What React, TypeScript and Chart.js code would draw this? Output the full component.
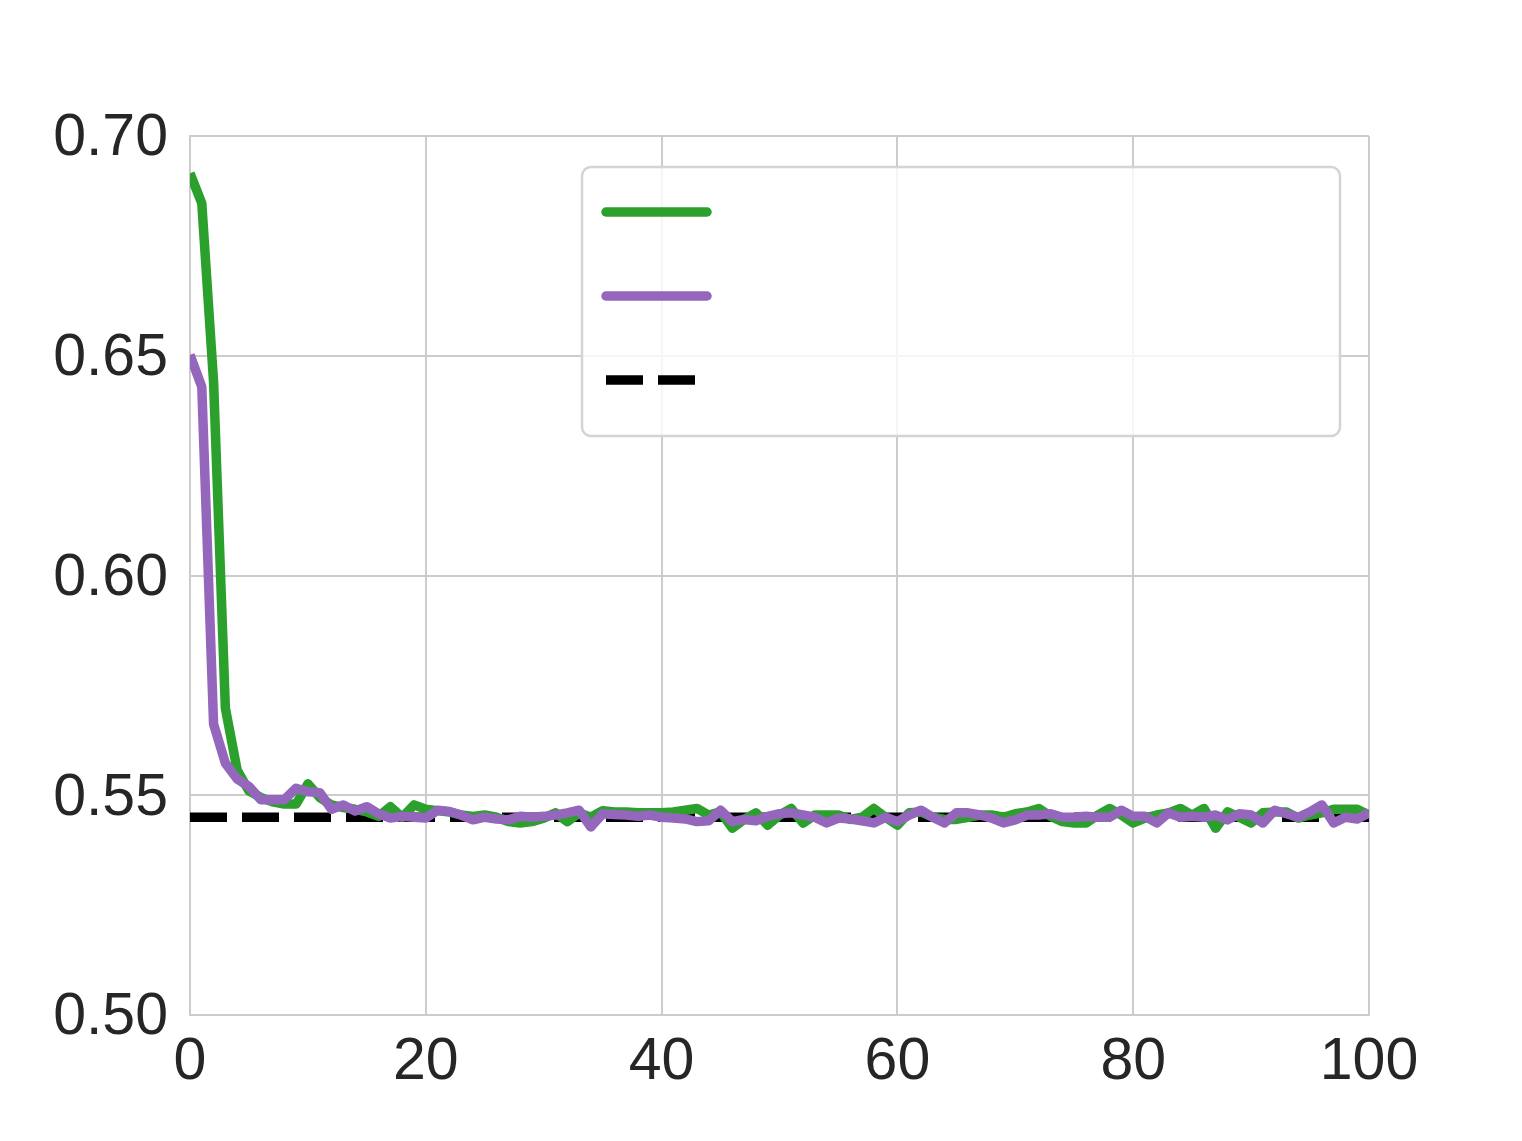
import React, { useEffect, useRef } from "react";
import { Chart, registerables } from "chart.js";

Chart.register(...registerables);

const epochs: number[] = Array.from({ length: 101 }, (_, i) => i);

const greenValues: number[] = [
  0.6915, 0.6847, 0.644, 0.5698, 0.5557, 0.551, 0.5495, 0.5485, 0.548, 0.548,
  0.5526, 0.5495, 0.5478, 0.5472, 0.5468, 0.5462, 0.5452, 0.5474, 0.545, 0.5478,
  0.5468, 0.5465, 0.5462, 0.5455, 0.5452, 0.5455, 0.545, 0.544, 0.5437, 0.544,
  0.5448, 0.546, 0.544, 0.546, 0.545, 0.5465, 0.5462, 0.5462, 0.546, 0.546,
  0.546, 0.5462, 0.5466, 0.547, 0.5455, 0.5462, 0.5425, 0.5445, 0.546, 0.5432,
  0.5455, 0.547, 0.5437, 0.5455, 0.5455, 0.5455, 0.5445, 0.545, 0.547, 0.545,
  0.5432, 0.546, 0.5462, 0.545, 0.5445, 0.5445, 0.545, 0.5455, 0.5455, 0.545,
  0.5458, 0.5462, 0.547, 0.5452, 0.544, 0.5437, 0.5437, 0.5455, 0.547, 0.5455,
  0.5437, 0.5448, 0.5455, 0.546, 0.547, 0.5455, 0.547, 0.5425, 0.5462, 0.545,
  0.5437, 0.546, 0.5462, 0.5462, 0.5448, 0.5455, 0.546, 0.5468, 0.5468, 0.5468,
  0.5455,
];

const purpleValues: number[] = [
  0.6502, 0.6429, 0.5662, 0.5573, 0.5537, 0.552, 0.549, 0.549, 0.549, 0.5516,
  0.5508, 0.5506, 0.5468, 0.5478, 0.5464, 0.5474, 0.5458, 0.5448, 0.5452, 0.545,
  0.5448, 0.5466, 0.5463, 0.5455, 0.5444, 0.545, 0.5446, 0.5444, 0.5452, 0.545,
  0.5452, 0.5455, 0.546, 0.5466, 0.5428, 0.5458, 0.5456, 0.5455, 0.5452, 0.5455,
  0.545, 0.5448, 0.5446, 0.544, 0.5442, 0.5466, 0.544, 0.5445, 0.5442, 0.5452,
  0.5458, 0.546, 0.5455, 0.545, 0.5437, 0.5448, 0.5446, 0.5442, 0.5437, 0.545,
  0.544, 0.5455, 0.5466, 0.545, 0.5437, 0.546, 0.546, 0.5455, 0.5448, 0.5437,
  0.5444, 0.5455, 0.5455, 0.5458, 0.545, 0.545, 0.5452, 0.545, 0.545, 0.5466,
  0.5452, 0.5452, 0.5437, 0.546, 0.545, 0.5452, 0.545, 0.5455, 0.5444, 0.5458,
  0.5455, 0.5437, 0.5466, 0.5458, 0.545, 0.5462, 0.5478, 0.5437, 0.545, 0.5446,
  0.546,
];

const baselineValue = 0.545;
const baselineX: number[] = [0, 100];

const xTicks: number[] = [0, 20, 40, 60, 80, 100];
const yTicks: number[] = [0.5, 0.55, 0.6, 0.65, 0.7];

const GREEN = "#2ca02c";
const PURPLE = "#9467bd";
const FONT = "'Liberation Sans', Arial, sans-serif";

const legendPlugin = {
  id: "customLegend",
  afterDraw(chart: any) {
    const ctx = chart.ctx;
    ctx.save();
    const x = 582, y = 167, w = 758, h = 269, r = 9;
    ctx.beginPath();
    ctx.moveTo(x + r, y);
    ctx.lineTo(x + w - r, y);
    ctx.arcTo(x + w, y, x + w, y + r, r);
    ctx.lineTo(x + w, y + h - r);
    ctx.arcTo(x + w, y + h, x + w - r, y + h, r);
    ctx.lineTo(x + r, y + h);
    ctx.arcTo(x, y + h, x, y + h - r, r);
    ctx.lineTo(x, y + r);
    ctx.arcTo(x, y, x + r, y, r);
    ctx.closePath();
    ctx.fillStyle = "rgba(255,255,255,0.8)";
    ctx.fill();
    ctx.lineWidth = 2.5;
    ctx.strokeStyle = "#d4d4d4";
    ctx.stroke();

    ctx.lineWidth = 9.5;
    ctx.lineCap = "round";
    ctx.strokeStyle = GREEN;
    ctx.beginPath();
    ctx.moveTo(606, 212);
    ctx.lineTo(707, 212);
    ctx.stroke();
    ctx.strokeStyle = PURPLE;
    ctx.beginPath();
    ctx.moveTo(606, 296);
    ctx.lineTo(707, 296);
    ctx.stroke();
    ctx.lineCap = "butt";
    ctx.strokeStyle = "#000000";
    ctx.setLineDash([37, 15]);
    ctx.beginPath();
    ctx.moveTo(606, 380);
    ctx.lineTo(706, 380);
    ctx.stroke();
    ctx.restore();
  },
};

export default function App() {
  const canvasRef = useRef<HTMLCanvasElement | null>(null);

  useEffect(() => {
    if (!canvasRef.current) return;
    const chart = new Chart(canvasRef.current, {
      type: "line",
      data: {
        datasets: [
          {
            label: "purple",
            data: epochs.map((e, i) => ({ x: e, y: purpleValues[i] })),
            borderColor: PURPLE,
            borderWidth: 9.5,
            pointRadius: 0,
            tension: 0,
            borderJoinStyle: "round",
            borderCapStyle: "butt",
            order: 0,
          },
          {
            label: "green",
            data: epochs.map((e, i) => ({ x: e, y: greenValues[i] })),
            borderColor: GREEN,
            borderWidth: 9.5,
            pointRadius: 0,
            tension: 0,
            borderJoinStyle: "round",
            borderCapStyle: "butt",
            order: 1,
          },
          {
            label: "baseline",
            data: baselineX.map((e) => ({ x: e, y: baselineValue })),
            borderColor: "#000000",
            borderWidth: 9.5,
            borderDash: [37, 15],
            pointRadius: 0,
            tension: 0,
            borderCapStyle: "butt",
            order: 2,
          },
        ],
      },
      options: {
        animation: false,
        responsive: false,
        devicePixelRatio: 1,
        layout: { padding: { top: 136, right: 153, left: 0, bottom: 0 } },
        plugins: {
          legend: { display: false },
          tooltip: { enabled: false },
        },
        scales: {
          x: {
            type: "linear",
            min: 0,
            max: 100,
            afterBuildTicks: (s: any) => {
              s.ticks = xTicks.map((v) => ({ value: v }));
            },
            afterFit: (s: any) => {
              s.height = 126;
            },
            ticks: {
              font: { family: FONT, size: 59 },
              color: "#262626",
              padding: 12,
              maxRotation: 0,
              autoSkip: false,
            },
            grid: { color: "#cccccc", lineWidth: 2, drawTicks: false },
            border: { color: "#cccccc", width: 2 },
          },
          y: {
            type: "linear",
            min: 0.5,
            max: 0.7,
            afterBuildTicks: (s: any) => {
              s.ticks = yTicks.map((v) => ({ value: v }));
            },
            afterFit: (s: any) => {
              s.width = 190;
            },
            ticks: {
              font: { family: FONT, size: 59 },
              color: "#262626",
              padding: 22,
              labelOffset: 3,
              autoSkip: false,
              callback: (v: any) => Number(v).toFixed(2),
            },
            grid: { color: "#cccccc", lineWidth: 2, drawTicks: false },
            border: { color: "#cccccc", width: 2 },
          },
        },
      },
      plugins: [legendPlugin],
    });
    return () => chart.destroy();
  }, []);

  return (
    <div style={{ position: "absolute", left: 0, top: 0, width: 1522, height: 1141, background: "#ffffff" }}>
      <canvas ref={canvasRef} width={1522} height={1141} style={{ width: 1522, height: 1141, display: "block" }} />
    </div>
  );
}
